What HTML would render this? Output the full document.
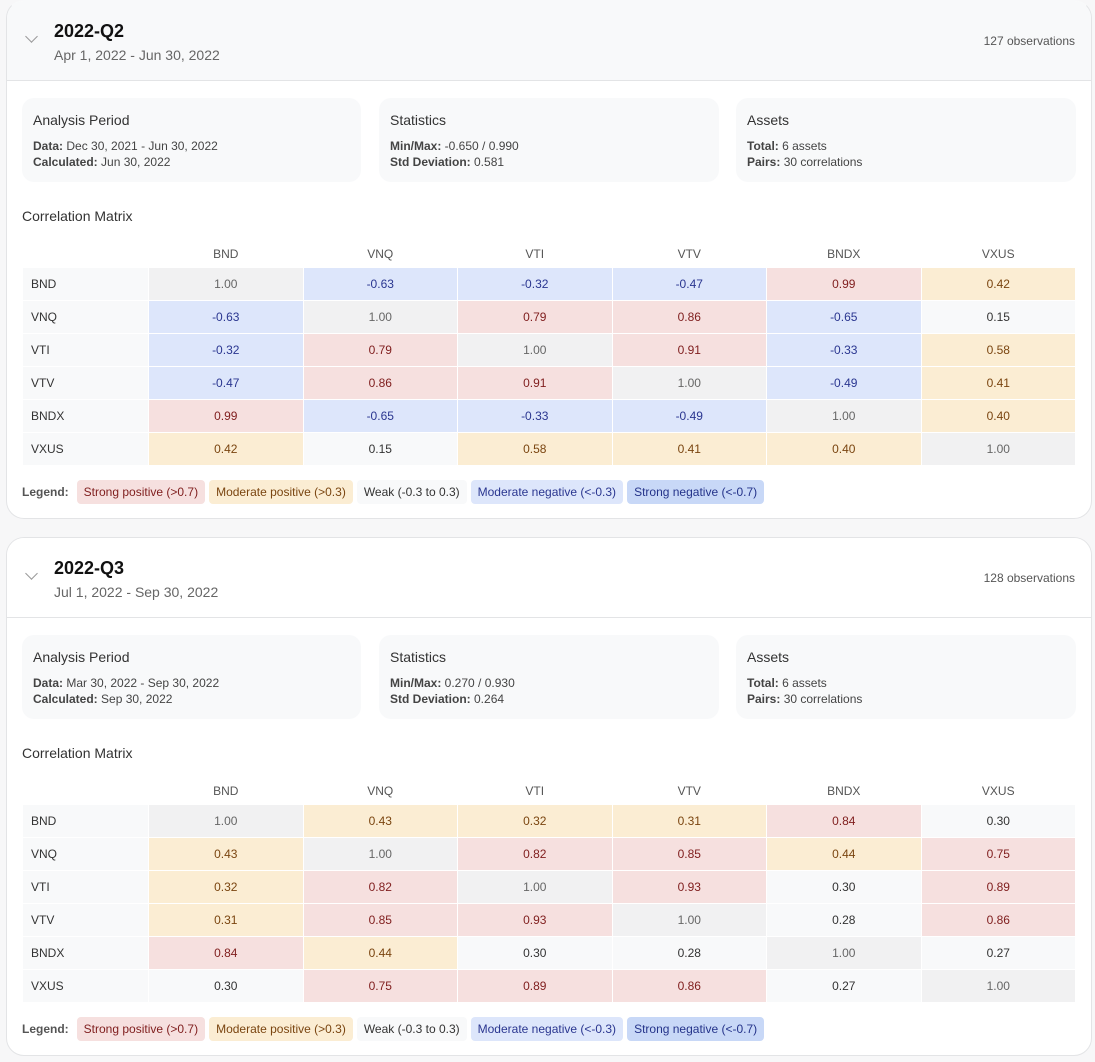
<!DOCTYPE html>
<html><head><meta charset="utf-8"><style>
*{box-sizing:border-box;margin:0;padding:0}
body{width:1095px;height:1062px;background:#f7f7f8;font-family:"Liberation Sans",Arial,sans-serif;overflow:hidden;position:relative}
.card{position:absolute;left:6px;width:1086px;height:519px;background:#fff;border:1px solid #e3e4e6;border-radius:18px;overflow:hidden}
.hdr{height:80px;background:#f8f9fa;border-bottom:1px solid #e3e4e6;position:relative}
.chev{position:absolute;left:20px;top:31px;width:9px;height:9px;border-right:1.5px solid #999;border-bottom:1.5px solid #999;transform:rotate(45deg)}
.title{position:absolute;left:47px;top:20px;font-size:18px;font-weight:bold;color:#111}
.sub{position:absolute;left:47px;top:46px;font-size:14px;color:#666}
.obs{position:absolute;right:16px;top:33px;font-size:12px;color:#555}
.box{position:absolute;top:97px;height:84px;background:#f8f9fa;border-radius:12px;padding:14px 11px;width:339px}
.box h4{font-weight:normal;font-size:14px;color:#333;margin-bottom:10px}
.box p{font-size:12px;color:#444;line-height:16px}
.box b{color:#444}
.cm{position:absolute;left:15px;top:207px;font-size:14px;color:#333}
table{position:absolute;left:15px;top:238px;border-collapse:collapse;font-size:12px}
td,th{height:33px;text-align:center;font-weight:normal;border:1px solid #fff;width:154.5px}
th{height:28px;color:#555}
td.l,th.l{width:126px;text-align:left;padding-left:8px;color:#333;background:#f8f9fa}
th.l{background:none}
.d{background:#f1f1f2;color:#666}
.sp{background:#f6e0df;color:#7f1d1d}
.mp{background:#fbedd3;color:#7a4510}
.w{background:#f8f9fa;color:#333}
.mn{background:#dde6fb;color:#2a3690}
.lg{position:absolute;left:15px;top:479px;display:flex;align-items:center;font-size:12px;gap:4px}
.lg span{padding:5px 7px;border-radius:4px}
.lg .t{color:#555;font-weight:bold;padding-left:0;padding-right:4px}
.sn{background:#c8d8f7;color:#24338a}
</style></head><body>
<div class="card" style="top:0;border-top-color:#f8f9fa">
<div class="hdr"><div class="chev"></div><div class="title">2022-Q2</div><div class="sub">Apr 1, 2022 - Jun 30, 2022</div><div class="obs">127 observations</div></div>
<div class="box" style="left:15px"><h4>Analysis Period</h4><p><b>Data:</b> Dec 30, 2021 - Jun 30, 2022<br><b>Calculated:</b> Jun 30, 2022</p></div>
<div class="box" style="left:372px;width:340px"><h4>Statistics</h4><p><b>Min/Max:</b> -0.650 / 0.990<br><b>Std Deviation:</b> 0.581</p></div>
<div class="box" style="left:729px;width:340px"><h4>Assets</h4><p><b>Total:</b> 6 assets<br><b>Pairs:</b> 30 correlations</p></div>
<div class="cm">Correlation Matrix</div>
<table>
<tr><th class="l"></th><th>BND</th><th>VNQ</th><th>VTI</th><th>VTV</th><th>BNDX</th><th>VXUS</th></tr>
<tr><td class="l">BND</td><td class="d">1.00</td><td class="mn">-0.63</td><td class="mn">-0.32</td><td class="mn">-0.47</td><td class="sp">0.99</td><td class="mp">0.42</td></tr>
<tr><td class="l">VNQ</td><td class="mn">-0.63</td><td class="d">1.00</td><td class="sp">0.79</td><td class="sp">0.86</td><td class="mn">-0.65</td><td class="w">0.15</td></tr>
<tr><td class="l">VTI</td><td class="mn">-0.32</td><td class="sp">0.79</td><td class="d">1.00</td><td class="sp">0.91</td><td class="mn">-0.33</td><td class="mp">0.58</td></tr>
<tr><td class="l">VTV</td><td class="mn">-0.47</td><td class="sp">0.86</td><td class="sp">0.91</td><td class="d">1.00</td><td class="mn">-0.49</td><td class="mp">0.41</td></tr>
<tr><td class="l">BNDX</td><td class="sp">0.99</td><td class="mn">-0.65</td><td class="mn">-0.33</td><td class="mn">-0.49</td><td class="d">1.00</td><td class="mp">0.40</td></tr>
<tr><td class="l">VXUS</td><td class="mp">0.42</td><td class="w">0.15</td><td class="mp">0.58</td><td class="mp">0.41</td><td class="mp">0.40</td><td class="d">1.00</td></tr>
</table>
<div class="lg"><span class="t">Legend:</span><span class="sp">Strong positive (&gt;0.7)</span><span class="mp">Moderate positive (&gt;0.3)</span><span class="w">Weak (-0.3 to 0.3)</span><span class="mn">Moderate negative (&lt;-0.3)</span><span class="sn">Strong negative (&lt;-0.7)</span></div>
</div>
<div class="card" style="top:537px">
<div class="hdr" style="background:#fff"><div class="chev"></div><div class="title">2022-Q3</div><div class="sub">Jul 1, 2022 - Sep 30, 2022</div><div class="obs">128 observations</div></div>
<div class="box" style="left:15px"><h4>Analysis Period</h4><p><b>Data:</b> Mar 30, 2022 - Sep 30, 2022<br><b>Calculated:</b> Sep 30, 2022</p></div>
<div class="box" style="left:372px;width:340px"><h4>Statistics</h4><p><b>Min/Max:</b> 0.270 / 0.930<br><b>Std Deviation:</b> 0.264</p></div>
<div class="box" style="left:729px;width:340px"><h4>Assets</h4><p><b>Total:</b> 6 assets<br><b>Pairs:</b> 30 correlations</p></div>
<div class="cm">Correlation Matrix</div>
<table>
<tr><th class="l"></th><th>BND</th><th>VNQ</th><th>VTI</th><th>VTV</th><th>BNDX</th><th>VXUS</th></tr>
<tr><td class="l">BND</td><td class="d">1.00</td><td class="mp">0.43</td><td class="mp">0.32</td><td class="mp">0.31</td><td class="sp">0.84</td><td class="w">0.30</td></tr>
<tr><td class="l">VNQ</td><td class="mp">0.43</td><td class="d">1.00</td><td class="sp">0.82</td><td class="sp">0.85</td><td class="mp">0.44</td><td class="sp">0.75</td></tr>
<tr><td class="l">VTI</td><td class="mp">0.32</td><td class="sp">0.82</td><td class="d">1.00</td><td class="sp">0.93</td><td class="w">0.30</td><td class="sp">0.89</td></tr>
<tr><td class="l">VTV</td><td class="mp">0.31</td><td class="sp">0.85</td><td class="sp">0.93</td><td class="d">1.00</td><td class="w">0.28</td><td class="sp">0.86</td></tr>
<tr><td class="l">BNDX</td><td class="sp">0.84</td><td class="mp">0.44</td><td class="w">0.30</td><td class="w">0.28</td><td class="d">1.00</td><td class="w">0.27</td></tr>
<tr><td class="l">VXUS</td><td class="w">0.30</td><td class="sp">0.75</td><td class="sp">0.89</td><td class="sp">0.86</td><td class="w">0.27</td><td class="d">1.00</td></tr>
</table>
<div class="lg"><span class="t">Legend:</span><span class="sp">Strong positive (&gt;0.7)</span><span class="mp">Moderate positive (&gt;0.3)</span><span class="w">Weak (-0.3 to 0.3)</span><span class="mn">Moderate negative (&lt;-0.3)</span><span class="sn">Strong negative (&lt;-0.7)</span></div>
</div>
</body></html>
